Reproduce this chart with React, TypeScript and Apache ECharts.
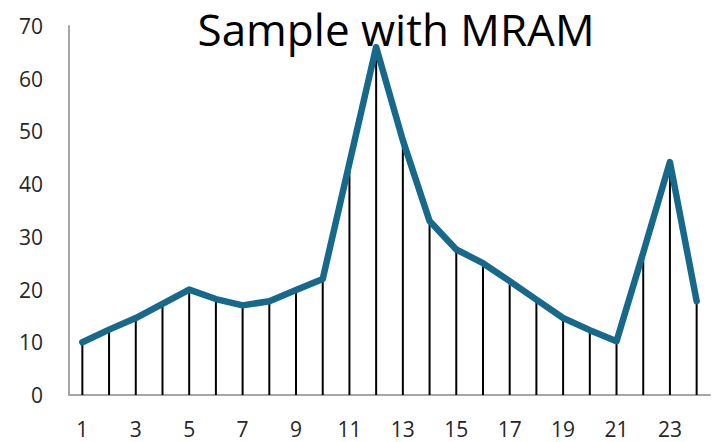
import React, { useEffect, useRef } from "react";
import * as echarts from "echarts";

const categories = ["1","2","3","4","5","6","7","8","9","10","11","12","13","14","15","16","17","18","19","20","21","22","23","24"];
const values = [10, 12.4, 14.6, 17.3, 20, 18.2, 17, 17.8, 19.9, 22, 44, 66, 48.3, 33, 27.6, 25, 21.6, 18.1, 14.6, 12.3, 10.2, 27, 44.2, 17.8];
const titleText = "Sample with MRAM";

export default function App() {
  const ref = useRef<HTMLDivElement>(null);
  useEffect(() => {
    if (!ref.current) return;
    const chart = echarts.init(ref.current, undefined, { renderer: "svg" });
    chart.setOption({
      animation: false,
      backgroundColor: "#ffffff",
      title: {
        text: titleText,
        left: 391,
        textAlign: "center",
        top: 1,
        textStyle: { fontFamily: "Open Sans", fontSize: 44, lineHeight: 46, fontWeight: "normal", color: "#000000" },
      },
      grid: { left: 69, right: 7, top: 26, bottom: 47, containLabel: false },
      xAxis: {
        type: "category",
        data: categories,
        boundaryGap: true,
        axisLine: { lineStyle: { color: "#a6a6a6", width: 2 } },
        axisTick: { show: false },
        axisLabel: {
          interval: 1,
          margin: 23,
          fontFamily: "Open Sans",
          fontSize: 21,
          lineHeight: 22,
          color: "#262626",
        },
      },
      yAxis: {
        type: "value",
        min: 0,
        max: 70,
        interval: 10,
        axisLine: { show: true, lineStyle: { color: "#a6a6a6", width: 2 } },
        axisTick: { show: false },
        splitLine: { show: false },
        axisLabel: {
          margin: 26,
          fontFamily: "Open Sans",
          fontSize: 21,
          color: "#262626",
        },
      },
      series: [
        {
          type: "bar",
          data: values,
          barWidth: 2,
          itemStyle: { color: "#000000" },
          z: 1,
        },
        {
          type: "line",
          data: values,
          symbol: "none",
          lineStyle: { color: "#17698c", width: 6.5, join: "round", cap: "round" },
          z: 2,
        },
      ],
    });
    return () => chart.dispose();
  }, []);
  return <div ref={ref} style={{ position: "fixed", left: 0, top: 0, width: 717, height: 442 }} />;
}
